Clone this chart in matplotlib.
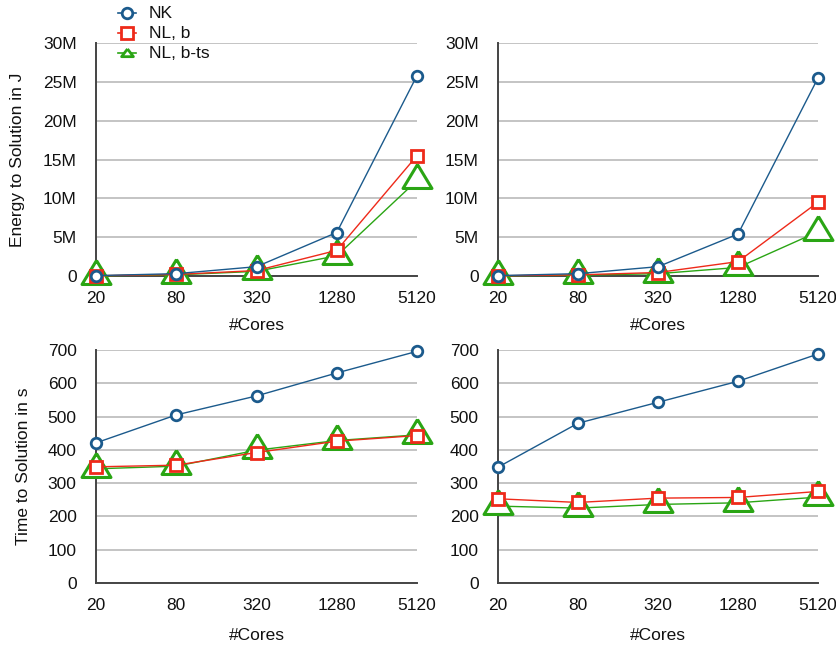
import matplotlib
matplotlib.use("Agg")
import matplotlib.pyplot as plt
from matplotlib.lines import Line2D

plt.rcParams['font.family'] = ['Liberation Sans', 'DejaVu Sans']

cores = ["20", "80", "320", "1280", "5120"]

# Energy to solution (J), left panel
energy_left_nk = [0.05e6, 0.3e6, 1.2e6, 5.6e6, 25.8e6]
energy_left_nlb = [0.03e6, 0.2e6, 0.7e6, 3.3e6, 15.5e6]
energy_left_nlbts = [0.02e6, 0.15e6, 0.6e6, 2.6e6, 12.3e6]

# Energy to solution (J), right panel
energy_right_nk = [0.05e6, 0.3e6, 1.2e6, 5.4e6, 25.5e6]
energy_right_nlb = [0.03e6, 0.15e6, 0.45e6, 1.85e6, 9.5e6]
energy_right_nlbts = [0.02e6, 0.1e6, 0.3e6, 1.1e6, 5.7e6]

# Time to solution (s), left panel
time_left_nk = [421, 505, 562, 631, 696]
time_left_nlb = [349, 354, 392, 426, 443]
time_left_nlbts = [343, 351, 399, 428, 445]

# Time to solution (s), right panel
time_right_nk = [348, 480, 543, 606, 688]
time_right_nlb = [253, 242, 255, 257, 275]
time_right_nlbts = [231, 225, 236, 241, 258]

series_names = ["NK", "NL, b", "NL, b-ts"]
energy_yticks = [0, 5e6, 10e6, 15e6, 20e6, 25e6, 30e6]
energy_yticklabels = ["0", "5M", "10M", "15M", "20M", "25M", "30M"]
time_yticks = [0, 100, 200, 300, 400, 500, 600, 700]

BLUE = "#1b5a8c"
RED = "#ee2a1a"
GREEN = "#2aa514"
FS = 12.5

# wide triangle centred on its centroid
tri = [(0, 16), (-14.5, -8), (14.5, -8), (0, 16)]

styles = [
    dict(color=BLUE, marker="o", markersize=7.6, mfc="white", mec=BLUE, mew=2.0, lw=1.0, zorder=5),
    dict(color=RED, marker="s", markersize=8.2, mfc="white", mec=RED, mew=2.0, lw=1.0, zorder=4),
    dict(color=GREEN, marker=tri, markersize=23, mfc="white", mec=GREEN, mew=2.2, lw=1.0, zorder=3),
]

W, H = 837, 647
fig = plt.figure(figsize=(W / 100, H / 100), dpi=100)

def axpos(l, r, t, b):
    return [l / W, 1 - b / H, (r - l) / W, (b - t) / H]

panels = [
    (axpos(96, 417, 43, 276), [energy_left_nk, energy_left_nlb, energy_left_nlbts], "energy",
     "Energy to Solution in J", 17.5, 326),
    (axpos(498, 818, 43, 276), [energy_right_nk, energy_right_nlb, energy_right_nlbts], "energy",
     None, None, 326),
    (axpos(96, 417, 350, 583), [time_left_nk, time_left_nlb, time_left_nlbts], "time",
     "Time to Solution in s", 23.5, 635),
    (axpos(498, 818, 350, 583), [time_right_nk, time_right_nlb, time_right_nlbts], "time",
     None, None, 635),
]

x = list(range(len(cores)))
for pos, data, kind, ylabel, ylx, xly in panels:
    ax = fig.add_axes(pos)
    for vals, st in reversed(list(zip(data, styles))):
        ax.plot(x, vals, clip_on=False, **st)
    ax.set_xlim(0, 4)
    if kind == "energy":
        ax.set_ylim(0, 30e6)
        ax.set_yticks(energy_yticks)
        ax.set_yticklabels(energy_yticklabels)
    else:
        ax.set_ylim(0, 700)
        ax.set_yticks(time_yticks)
    ax.set_xticks(x)
    ax.set_xticklabels(cores)
    ax.tick_params(axis="both", length=0, labelsize=FS, colors="#111111")
    ax.tick_params(axis="y", pad=14)
    ax.tick_params(axis="x", pad=11)
    ax.grid(axis="y", color="#c4c4c4", lw=1.4)
    ax.set_axisbelow(True)
    for s in ["top", "right"]:
        ax.spines[s].set_visible(False)
    for s in ["left", "bottom"]:
        ax.spines[s].set_color("#444444")
        ax.spines[s].set_linewidth(1.4)
    cx = (pos[0] + pos[2] / 2)
    fig.text(cx, 1 - xly / H, "#Cores", ha="center", va="center", fontsize=FS, color="#111111")
    if ylabel:
        cy = pos[1] + pos[3] / 2
        fig.text(ylx / W, cy, ylabel, rotation=90, ha="center", va="center",
                 fontsize=FS, color="#111111")

# legend drawn manually (line segment + marker + label)
leg_sizes = [7.6, 8.2, 8.5]
leg_markers = ["o", "s", [(0, 10), (-13, -7), (13, -7), (0, 10)]]
leg_colors = [BLUE, RED, GREEN]
for i, name in enumerate(series_names):
    y = 1 - (13 + 20 * i) / H
    fig.add_artist(Line2D([118 / W, 136 / W], [y, y], transform=fig.transFigure,
                          color=leg_colors[i], lw=1.2))
    fig.add_artist(Line2D([127 / W], [y], transform=fig.transFigure, lw=0,
                          marker=leg_markers[i], markersize=leg_sizes[i], mfc="white",
                          mec=leg_colors[i], mew=2.0))
    fig.text(149 / W, y, name, ha="left", va="center", fontsize=FS, color="#111111")

fig.savefig("out.png", dpi=100, facecolor="white")
